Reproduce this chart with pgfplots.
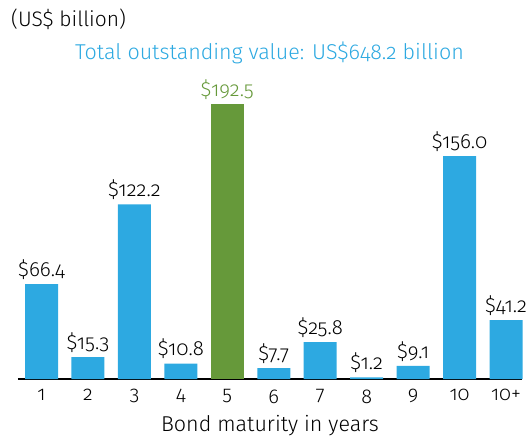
\documentclass[border=0pt]{standalone}
\usepackage{fontspec}
\setmainfont{Fira Sans Light}[Numbers=OldStyle]
\usepackage{pgfplots}
\pgfplotsset{compat=1.18}
\definecolor{barblue}{HTML}{2DA9E1}
\definecolor{bargreen}{HTML}{66993A}
\begin{document}
\begin{tikzpicture}
\useasboundingbox (0,0) rectangle (530bp,439bp);
\node[anchor=west,inner sep=0pt,font=\fontsize{21bp}{22bp}\selectfont] at (11bp,420bp) {(US\$ billion)};
\node[anchor=center,inner sep=0pt,text=barblue,font=\fontsize{21.5bp}{23bp}\selectfont] at (269.5bp,386bp) {Total outstanding value: US\$648.2 billion};
\begin{axis}[
  at={(18bp,60bp)}, anchor=south west,
  scale only axis, width=504bp, height=300bp,
  xmin=-0.506, xmax=10.344, ymin=0, ymax=210,
  axis x line*=bottom, axis y line=none,
  x axis line style={line width=1.2pt,-},
  ytick=\empty,
  xtick={0,...,10},
  xticklabels={1,2,3,4,5,6,7,8,9,10,10+},
  major tick length=0pt,
  xticklabel style={font=\fontsize{20bp}{22bp}\selectfont, yshift=-7bp},
  xlabel={Bond maturity in years},
  xlabel style={font=\fontsize{21.5bp}{23bp}\selectfont, yshift=-5bp},
  ybar, bar width=33bp, bar shift=0pt,
  nodes near coords={\$\pgfmathprintnumber[fixed,precision=1,zerofill,assume math mode=true]{\pgfplotspointmeta}},
  nodes near coords style={font=\fontsize{20.5bp}{22bp}\selectfont, anchor=south, yshift=1bp},
  clip=false,
]
\addplot[fill=barblue, draw=none] coordinates {
(0,66.4) (1,15.3) (2,122.2) (3,10.8) (5,7.7) (6,25.8) (7,1.2) (8,9.1) (9,156.0) (10,41.2)};
\addplot[fill=bargreen, draw=none, nodes near coords style={text=bargreen}] coordinates {(4,192.5)};
\end{axis}
\end{tikzpicture}
\end{document}
